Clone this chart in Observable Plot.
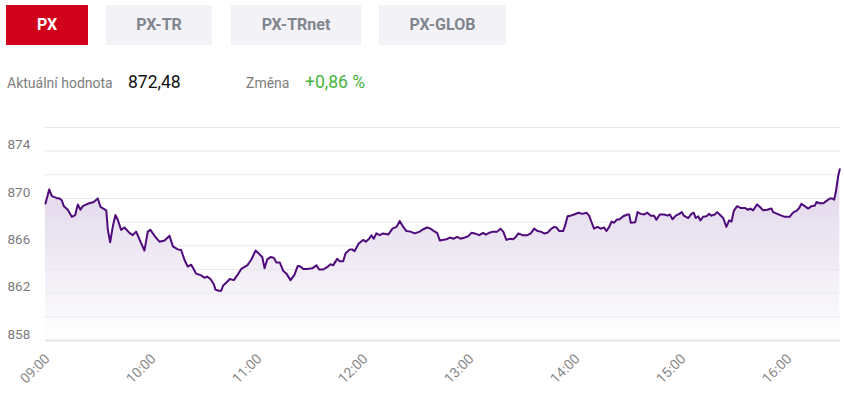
<!DOCTYPE html>
<html><head><meta charset="utf-8">
<script src="https://cdn.jsdelivr.net/npm/d3@7"></script>
<script src="https://cdn.jsdelivr.net/npm/@observablehq/plot@0.6"></script>
<style>
body{margin:0;background:#fff;font-family:Roboto,"Noto Sans",sans-serif;width:844px;height:395px;overflow:hidden;position:relative}
.tab{position:absolute;top:5px;height:40px;line-height:40px;text-align:center;font-weight:bold;font-size:16px;color:#80858e;background:#f3f3f7}
.tab.active{background:#d0021b;color:#fff}
.lbl{position:absolute;top:75px;font-size:14px;color:#7d7d7d}
.val{position:absolute;top:72px;font-size:17.5px;color:#111}
#chart{position:absolute;left:0;top:110px}
</style></head><body>
<div class="tab active" style="left:6px;width:82px">PX</div>
<div class="tab" style="left:106px;width:106px">PX-TR</div>
<div class="tab" style="left:231px;width:130px">PX-TRnet</div>
<div class="tab" style="left:379px;width:127px">PX-GLOB</div>
<div class="lbl" style="left:7px">Aktuální hodnota</div>
<div class="val" style="left:128px">872,48</div>
<div class="lbl" style="left:246px">Změna</div>
<div class="val" style="left:305px;color:#46b33f">+0,86 %</div>
<div id="chart"></div>
<script>
// minutes since 09:00
const minutes = [0,2.1,3.6,6.1,7.9,9.2,10.4,12.6,14.9,16.8,18.3,19.8,21.1,23.9,27.3,29.6,31.1,34.4,35.3,36.6,38.1,39.6,40.9,42.8,44.7,47.5,49.4,51.3,53.2,56.0,57.9,59.4,61.7,64.5,67.4,70.2,72.1,74.9,76.8,78.7,80.5,82.5,85.3,88.1,90.0,
91.5,93.4,95.3,96.2,98.1,99.4,100.6,102.4,104.3,106.6,108.5,110.8,114.2,116.4,118.9,120.7,122.7,124.0,125.5,127.4,129.2,130.7,132.6,134.5,136.4,138.7,140.9,142.8,144.3,145.9,148.1,151.0,153.4,154.9,157.2,159.4,161.3,162.8,165.1,166.6,168.5,169.8,172.2,173.6,174.9,177.3,
179.8,181.3,183.2,184.5,185.8,187.3,189.2,191.1,194.0,196.4,198.7,200.5,202.5,204.3,206.6,209.0,211.8,213.8,216.0,217.9,219.8,221.7,223.2,224.7,227.0,228.8,231.1,233.0,234.9,237.3,239.2,241.1,243.0,245.5,247.7,249.2,251.1,253.4,255.7,257.5,259.1,260.9,262.8,264.7,
266.2,267.7,270.0,272.8,274.7,276.6,278.5,280.3,282.3,284.1,286.0,287.9,289.2,290.8,293.0,294.2,295.5,297.3,299.2,301.7,303.9,306.2,307.7,309.2,310.5,312.4,314.3,316.2,317.5,319.1,320.4,321.9,323.2,325.0,327.0,329.4,330.4,331.3,333.8,335.1,336.9,338.9,340.7,342.6,344.5,345.8,347.7,350.2,352.1,353.4,354.9,356.8,358.7,360.2,
361.3,363.8,365.6,366.9,368.1,369.4,370.7,372.2,374.1,375.7,376.9,378.8,380.2,381.6,383.6,385.4,387.0,388.3,389.6,391.5,393.4,395.8,397.7,399.0,400.5,402.8,404.3,406.2,408.5,410.9,411.9,414.2,416.6,418.5,421.3,422.2,423.5,425.1,426.6,427.9,429.8,431.7,433.6,435.5,436.4,438.3,440.3,442.1,444.0,445.4,446.4,447.3,448.7,449.6];
const values = [869.57,870.77,870.2,870.05,870.0,869.85,869.35,869.05,868.45,868.6,869.5,869.05,869.35,869.55,869.7,870.0,869.3,869.0,867.35,866.3,867.65,868.6,868.2,867.35,867.55,867.1,866.9,867.2,866.55,865.6,867.2,867.35,866.85,866.35,866.45,866.85,865.95,865.7,865.65,864.8,864.25,864.4,863.65,863.5,863.3,
863.4,863.2,862.75,862.3,862.2,862.2,862.65,862.9,863.2,863.1,863.5,864.05,864.35,864.8,865.6,865.35,865.05,864.1,864.85,865.05,865.0,864.6,864.6,863.9,863.65,863.1,863.55,864.3,864.25,864.05,864.05,864.1,864.35,864.0,864.0,864.2,864.45,864.35,864.9,864.7,864.7,865.35,865.7,865.7,865.55,866.2,
866.5,866.35,866.6,866.9,866.6,867.05,866.9,867.05,866.95,867.45,867.6,868.1,867.6,867.25,867.2,867.05,867.2,867.4,867.55,867.45,867.25,867.1,866.45,866.5,866.55,866.7,866.6,866.75,866.6,866.7,866.8,867.1,867.05,866.9,867.1,866.95,867.1,867.2,867.2,867.45,867.2,866.5,866.6,866.55,
866.75,867.05,866.9,866.9,867.05,867.45,867.25,867.2,867.05,867.1,867.4,867.6,867.55,867.25,867.25,867.75,868.5,868.55,868.65,868.8,868.7,868.8,868.55,867.95,867.45,867.6,867.45,867.55,867.25,867.6,868.05,867.95,868.2,868.25,868.5,868.65,868.65,867.95,868.0,868.85,868.7,868.65,868.8,868.55,868.55,868.2,868.65,868.65,868.55,868.65,868.25,868.55,868.7,868.85,
868.55,868.35,868.7,868.8,868.35,868.5,868.15,868.45,868.5,868.7,868.55,868.65,868.85,868.65,868.35,867.6,868.15,868.05,868.95,869.35,869.2,869.2,869.05,869.15,869.0,869.5,869.3,869.0,869.05,869.15,868.85,868.7,868.55,868.45,868.45,868.65,868.85,868.95,869.2,869.55,869.35,869.15,869.35,869.4,869.7,869.6,869.6,869.8,870.0,870.0,869.9,870.5,871.9,872.48];
const xTickHours = [9,10,11,12,13,14,15,16];
const yLabelTicks = [858,862,866,870,874];
const yGridTicks = [858,860,862,864,866,868,870,872,874,876];
const yDomain = [858,876];

const t0 = Date.UTC(2024,0,15,9,0);
const data = minutes.map((m,i)=>({t:new Date(t0+m*60000), v:values[i]}));
const xTicks = xTickHours.map(h=>new Date(Date.UTC(2024,0,15,h,0)));

const chart = Plot.plot({
  width:844, height:285,
  marginTop:17, marginBottom:55, marginLeft:45, marginRight:4,
  style:{fontFamily:"Roboto, sans-serif", background:"transparent"},
  x:{type:"utc", domain:[new Date(t0), new Date(Date.UTC(2024,0,15,16,30))]},
  y:{domain:yDomain},
  marks:[
    Plot.areaY(data,{x:"t", y1:858, y2:"v", fill:"url(#pxgrad)", curve:"linear"}),
    Plot.gridY(yGridTicks,{stroke:"#e8e8ec", strokeOpacity:1}),
    Plot.ruleY([858],{stroke:"#e6e6ea", strokeWidth:2}),
    Plot.lineY(data,{x:"t", y:"v", stroke:"#4f0b7b", strokeWidth:2, strokeLinejoin:"round"}),
    Plot.axisY({ticks:yLabelTicks, tickSize:0, tickPadding:0, textAnchor:"start", dx:-38, dy:-6, fontSize:13.5, fill:"#7b7b7b", label:null}),
    Plot.axisX({ticks:xTicks, tickFormat:d3.utcFormat("%H:%M"), tickSize:0, tickPadding:16, dx:2, tickRotate:-45, fontSize:14, fill:"#8a8a8a", label:null})
  ]
});
const svg = d3.select(chart);
const defs = svg.insert("defs",":first-child");
const g = defs.append("linearGradient").attr("id","pxgrad").attr("x1",0).attr("y1",0).attr("x2",0).attr("y2",1);
g.append("stop").attr("offset","0%").attr("stop-color","#7b4fa8").attr("stop-opacity",0.25);
g.append("stop").attr("offset","100%").attr("stop-color","#7b4fa8").attr("stop-opacity",0.0);
document.getElementById("chart").appendChild(chart);
</script>
</body></html>
